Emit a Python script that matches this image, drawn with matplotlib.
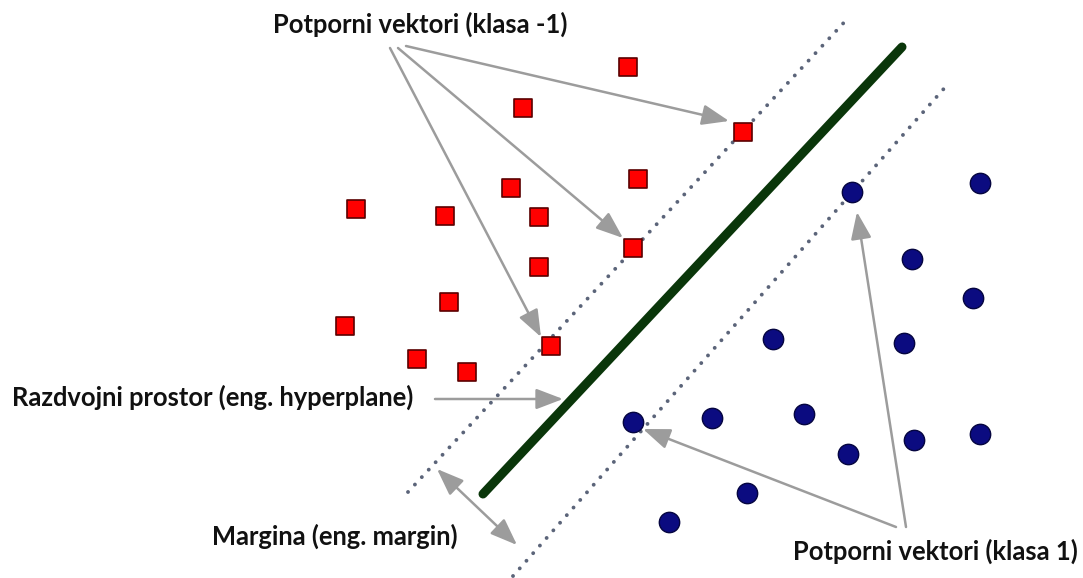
import numpy as np
import matplotlib.pyplot as plt

# Class -1 points (red squares), image pixel coordinates
neg_x = [628, 523, 743, 638, 511, 356, 445, 539, 633, 539, 449, 345, 417, 467, 551]
neg_y = [67, 108, 132, 179, 188, 209, 216, 217, 248, 267, 302, 326, 359, 372, 346]

# Class 1 points (blue circles)
pos_x = [852, 980, 912, 973, 773, 904, 633, 712, 804, 848, 914, 980, 747, 669]
pos_y = [192, 183, 259, 298, 339, 343, 422, 418, 414, 454, 440, 434, 493, 522]

# Hyperplane and margin lines (end points)
hyper_x = [483, 902]
hyper_y = [494, 47]
margin_up_x = [408, 850]
margin_up_y = [492, 16]
margin_lo_x = [513, 948]
margin_lo_y = [576, 84]

# Labels and arrows
labels = ["Potporni vektori (klasa -1)",
          "Razdvojni prostor (eng. hyperplane)",
          "Margina (eng. margin)",
          "Potporni vektori (klasa 1)"]

arrows_neg = [((406, 46), (729, 121)),
              ((398, 48), (623, 238)),
              ((390, 48), (541, 337))]
arrows_pos = [((896, 527), (643, 429)),
              ((906, 527), (857, 212))]
arrow_hyper = ((435, 399), (563, 399))
arrow_margin = ((437, 469), (517, 545))

fig = plt.figure(figsize=(10.83, 5.78), dpi=100)
ax = fig.add_axes([0, 0, 1, 1])
ax.set_xlim(0, 1083)
ax.set_ylim(578, 0)
ax.axis("off")

gray = "#9c9c9c"
dot_col = "#5b6479"

# margins (dotted)
for xs, ys in [(margin_up_x, margin_up_y), (margin_lo_x, margin_lo_y)]:
    ax.plot(xs, ys, color=dot_col, lw=2.8, linestyle=(0, (0.01, 2.6)),
            dash_capstyle="round", zorder=1)

# hyperplane
ax.plot(hyper_x, hyper_y, color="#0a360a", lw=6.5, solid_capstyle="round", zorder=2)

# points
ax.scatter(neg_x, neg_y, marker="s", s=175, color="#ff0000", edgecolors="#5a0000",
           linewidths=1.2, zorder=3)
ax.scatter(pos_x, pos_y, marker="o", s=215, color="#0b0b80", edgecolors="#050540",
           linewidths=1.0, zorder=3)

style = dict(arrowstyle="-|>,head_length=1.1,head_width=0.42", color=gray,
             lw=1.8, shrinkA=0, shrinkB=0, mutation_scale=15)
for start, end in arrows_neg + arrows_pos + [arrow_hyper]:
    ax.annotate("", xy=end, xytext=start, arrowprops=style, zorder=4)
dstyle = dict(style, arrowstyle="<|-|>,head_length=1.1,head_width=0.42")
ax.annotate("", xy=arrow_margin[1], xytext=arrow_margin[0], arrowprops=dstyle, zorder=4)

font = dict(family=["Lato", "DejaVu Sans"], fontweight="bold", fontsize=18.4,
            color="#111111")
ax.text(420, 24, labels[0], ha="center", va="center", **font)
ax.text(12, 397, labels[1], ha="left", va="center", **font)
ax.text(335, 536, labels[2], ha="center", va="center", **font)
ax.text(935, 551, labels[3], ha="center", va="center", **font)

fig.savefig("out.png", dpi=100, facecolor="white")
